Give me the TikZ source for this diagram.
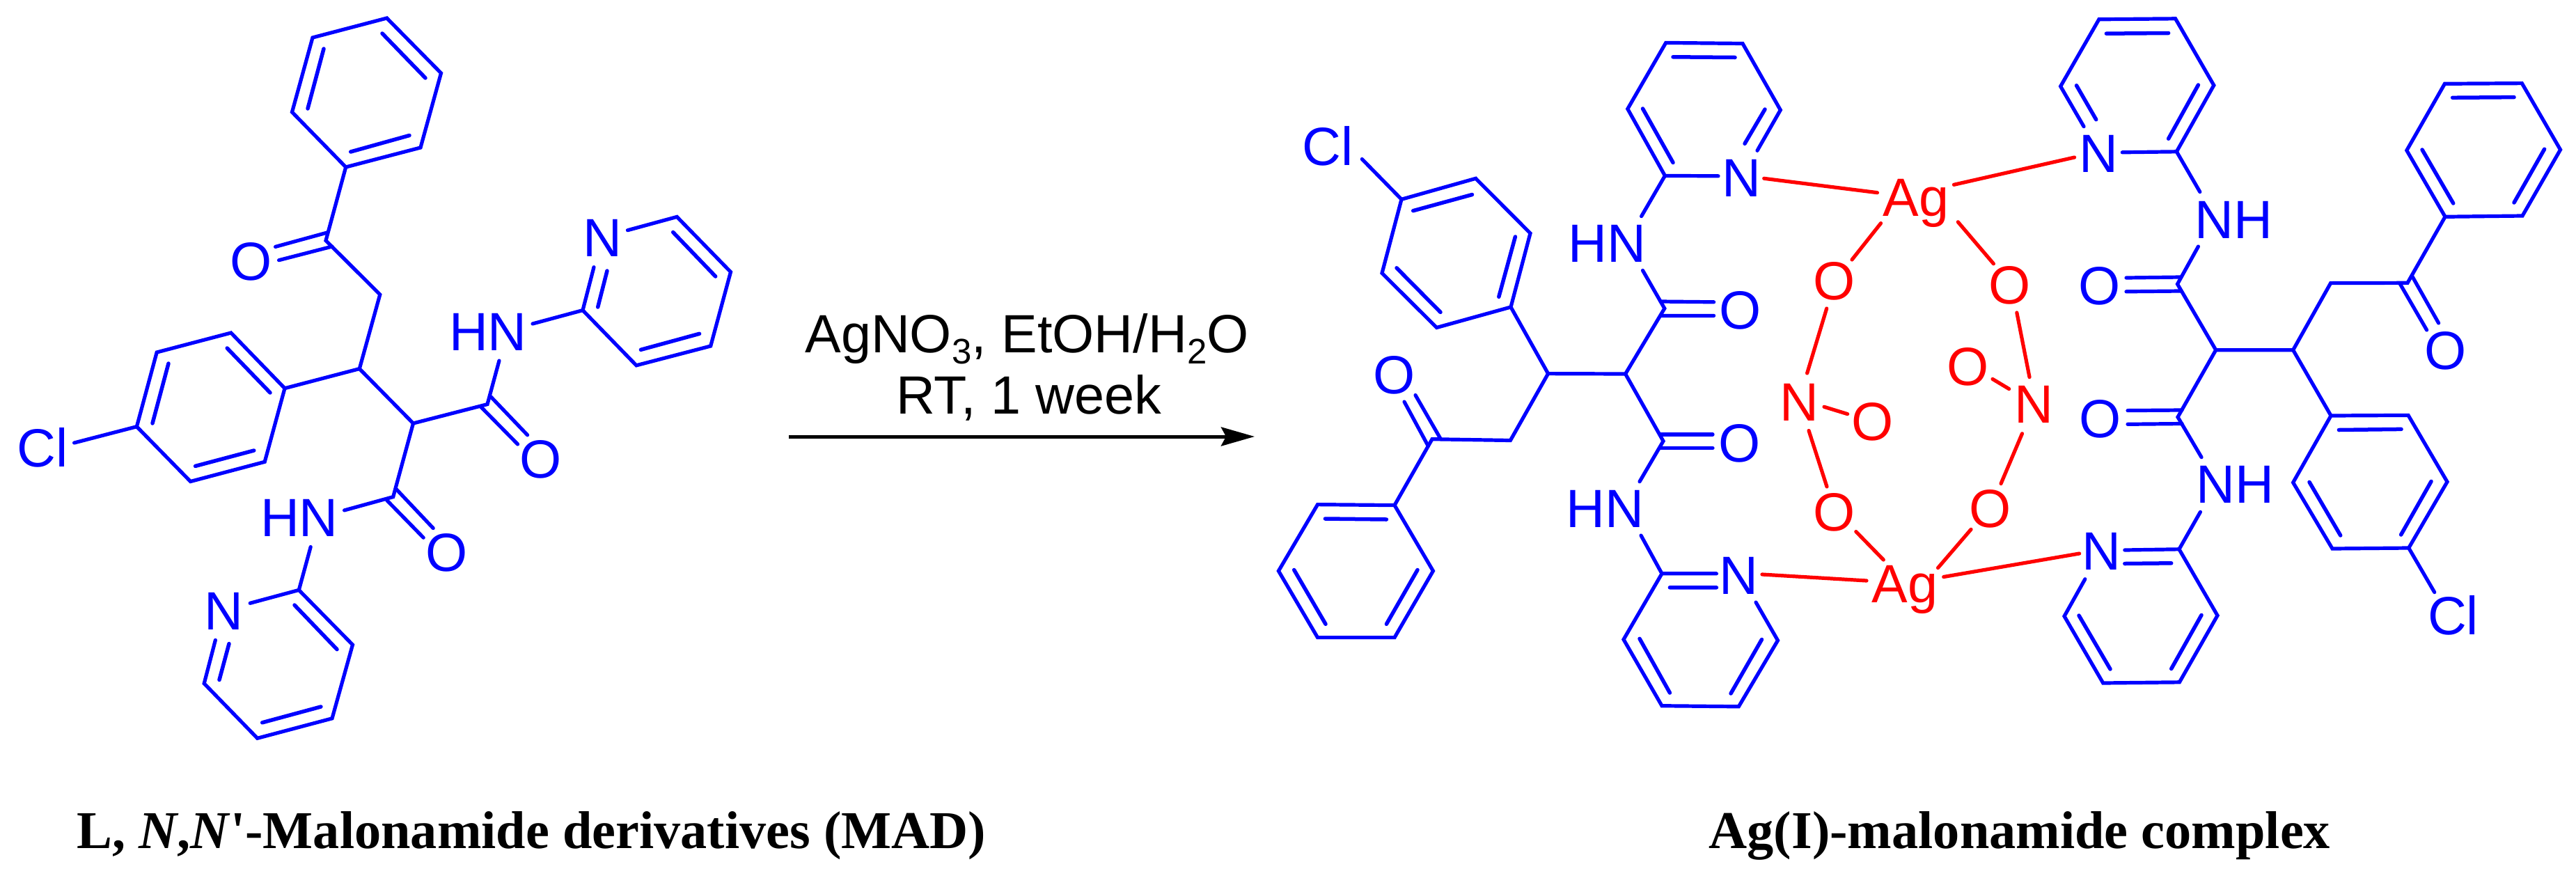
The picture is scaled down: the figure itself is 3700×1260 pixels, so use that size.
\documentclass[tikz,border=0pt]{standalone}
\usepackage{fontspec}
\setmainfont{Liberation Sans}
\newfontfamily\capfont{Liberation Serif}
\usetikzlibrary{arrows.meta}
\definecolor{molblue}{RGB}{0,0,255}
\definecolor{metred}{RGB}{255,0,0}
\tikzset{
  bond/.style={draw=molblue,line width=0.052cm,line cap=round,line join=miter},
  dbl/.style={bond,line width=0.055cm},
  rbond/.style={draw=metred,line width=0.052cm,line cap=round},
  lbl/.style={anchor=base,inner sep=0pt,outer sep=0pt,font=\fontsize{22pt}{24pt}\selectfont},
  bl/.style={lbl,text=molblue},
  rd/.style={lbl,text=metred},
  rxtext/.style={anchor=base,inner sep=0pt,font=\fontsize{22pt}{24pt}\selectfont,text=black},
  captext/.style={anchor=base west,inner sep=0pt,font=\capfont\bfseries\fontsize{21.7pt}{24pt}\selectfont,text=black},
  rxn/.style={draw=black,line width=0.05cm,-{Stealth[length=0.48cm,width=0.27cm,inset=0.07cm]}}
}
\newcommand{\subt}[1]{\raisebox{-0.16cm}{\fontsize{14.5pt}{16pt}\selectfont #1}}
\begin{document}
\begin{tikzpicture}[x=0.01cm,y=-0.01cm]
\useasboundingbox (0,0) rectangle (3700,1260);
%% ---------- left molecule: atoms
\coordinate (a1) at (555.6,26); \coordinate (a2) at (633.5,105); \coordinate (a3) at (604,212);
\coordinate (a4) at (496.7,240); \coordinate (a5) at (419.5,161); \coordinate (a6) at (449,54);
\coordinate (k1) at (468,345.5); \coordinate (m1) at (545.8,423); \coordinate (h1) at (516.3,529.6);
\coordinate (h2) at (593.5,608);
\coordinate (b1) at (409,557.7); \coordinate (b2) at (331.8,478); \coordinate (b3) at (225.2,506);
\coordinate (b4) at (196.4,612.7); \coordinate (b5) at (273.6,691.5); \coordinate (b6) at (380.2,663.3);
\coordinate (c1) at (700,580.6); \coordinate (c2) at (564.7,713.6);
\coordinate (p1) at (837,445.6); \coordinate (p3) at (972.3,311.4); \coordinate (p4) at (1049.5,390.6);
\coordinate (p5) at (1020.7,497); \coordinate (p6) at (914,524.8);
\coordinate (q1) at (429.3,847.4); \coordinate (q2) at (506.5,926); \coordinate (q3) at (477,1031.8);
\coordinate (q4) at (369.7,1060.3); \coordinate (q5) at (293.2,981.6);
%% gap ends
\coordinate (gCl1) at (106.6,636); \coordinate (gH1a) at (717,518); \coordinate (gH1b) at (765,465);
\coordinate (gN1a) at (853,383.7); \coordinate (gN1b) at (901.5,330.7);
\coordinate (gH2a) at (494.6,732.9); \coordinate (gH2b) at (446.2,785.5);
\coordinate (gN2a) at (359.2,866.3); \coordinate (gN2b) at (309.4,919.3);
\coordinate (gO1a) at (395.6,354.4); \coordinate (gO1b) at (400.6,373.7);
\coordinate (kO1a) at (470,334); \coordinate (kO1b) at (477,354);
%% labels
\node[bl] (O1) at (360.6,402) {O};
\node[bl] (Cl1) at (61,670) {Cl};
\node[bl] (HN1) at (701,503) {HN};
\node[bl] (N1) at (865,368.5) {N};
\node[bl] (O2) at (777,686) {O};
\node[bl] (HN2) at (430,770.6) {HN};
\node[bl] (O3) at (641.9,820) {O};
\node[bl] (N2) at (321.3,904) {N};
%% bonds
\draw[bond] (a1)--(a2)--(a3)--(a4)--(a5)--(a6)--cycle;
\draw[dbl] (549,48)--(611,112) (588,194.5)--(503.7,218) (442,156)--(465,70);
\draw[bond] (a4)--(k1)--(m1)--(h1)--(h2)--(c1)--(gH1a);
\draw[bond] (kO1a)--(gO1a) (kO1b)--(gO1b);
\draw[bond] (h1)--(b1);
\draw[bond] (b1)--(b2)--(b3)--(b4)--(b5)--(b6)--cycle;
\draw[dbl] (326.2,500)--(388,564) (242,522)--(219,608) (364.8,647)--(280.6,669.4);
\draw[bond] (b4)--(gCl1);
\draw[bond] (705,569.8)--(757.6,624.8) (691,584.6)--(743.6,638);
\draw[bond] (gH1b)--(p1)--(gN1a) (gN1b)--(p3)--(p4)--(p5)--(p6)--(p1);
\draw[dbl] (858.7,441)--(872,389) (966.7,333.5)--(1027.7,397) (1004.6,479.3)--(920.4,502.3);
\draw[bond] (h2)--(c2)--(gH2a) (gH2b)--(q1)--(q2)--(q3)--(q4)--(q5)--(gN2b) (gN2a)--(q1);
\draw[bond] (569.6,703)--(622.2,758.6) (555.6,718.4)--(608.2,772.2);
\draw[dbl] (423,869)--(484,932.6) (460.9,1015)--(376.7,1037.8) (315,976.4)--(329,924.5);
%% ---------- arrow + conditions
\coordinate (ar1) at (1133,627); \coordinate (ar2) at (1802,627);
\draw[rxn] (ar1)--(ar2);
\node[rxtext] (t1) at (1475,506.6) {AgNO\subt{3}, EtOH/H\subt{2}O};
\node[rxtext] (t2) at (1478,594) {RT, 1 week};
%% ---------- captions
\node[captext] (cL) at (110,1218) {L, \textit{N},\textit{N}\textquotesingle-Malonamide derivatives (MAD)};
\node[captext] (cR) at (2454,1218) {Ag(I)-malonamide complex};
%% ---------- right molecule, left half
\coordinate (e1) at (2392.7,61.4); \coordinate (e2) at (2503,62.5); \coordinate (e3) at (2557.3,158);
\coordinate (e4) at (2391.4,252.4); \coordinate (e5) at (2337.8,156.4);
\coordinate (gNe3) at (2524,216.3); \coordinate (gNe4) at (2468,252.8);
\coordinate (gHe4) at (2357.6,310.6); \coordinate (gHe5) at (2359.5,388.4);
\coordinate (d1) at (2390.8,443); \coordinate (d2) at (2334.6,537); \coordinate (d3) at (2223.6,536.6);
\coordinate (f1) at (2170,441); \coordinate (f2) at (2198,335); \coordinate (f3) at (2119.6,256.3);
\coordinate (f4) at (2013,286.3); \coordinate (f5) at (1985,392.3); \coordinate (f6) at (2063.5,470.5);
\coordinate (gClf) at (1956.3,228.5);
\coordinate (d4) at (2169.4,632.5); \coordinate (d5) at (2057,630.7);
\coordinate (g1) at (2003,725.6); \coordinate (g2) at (2058.4,820); \coordinate (g3) at (2003,915.6);
\coordinate (g4) at (1892.5,915.6); \coordinate (g5) at (1836.4,820); \coordinate (g6) at (1892.5,724.6);
\coordinate (d6) at (2389,633.5); \coordinate (gHd6) at (2355,691.7); \coordinate (gHh1) at (2357,769);
\coordinate (r1) at (2387,823.8); \coordinate (gNr1) at (2465.4,823.8); \coordinate (gNr3) at (2522,865);
\coordinate (r3) at (2553.5,919.8); \coordinate (r4) at (2497.3,1014.8); \coordinate (r5) at (2387,1013.7);
\coordinate (r6) at (2332,918.4);
\node[bl] (N3) at (2501,282) {N};
\node[bl] (HN3) at (2308,376) {HN};
\node[bl] (O4) at (2500,472.5) {O};
\node[bl] (Cl2) at (1907,237) {Cl};
\node[bl] (O5) at (2003,565) {O};
\node[bl] (O6) at (2498.6,663) {O};
\node[bl] (HN4) at (2305,757) {HN};
\node[bl] (N4) at (2497.6,853) {N};
\draw[bond] (gNe3)--(e3)--(e2)--(e1)--(e5)--(e4)--(gNe4);
\draw[dbl] (2403,81.8)--(2492,82.5) (2535,157)--(2506,206.3) (2359.5,156)--(2403,233.5);
\draw[bond] (e4)--(gHe4) (gHe5)--(d1)--(d2)--(d3)--(f1)--(f2)--(f3)--(f4)--(f5)--(f6)--(f1);
\draw[bond] (2385,433)--(2461.6,433.8) (2385,453.4)--(2461.6,453.4);
\draw[dbl] (2152.8,426.3)--(2176.4,340) (2114.5,279.5)--(2029.7,302.7) (2006,384.8)--(2069,448.4);
\draw[bond] (f4)--(gClf);
\draw[bond] (d3)--(d4)--(d5)--(g1)--(g2)--(g3)--(g4)--(g5)--(g6)--(g1);
\draw[bond] (2033,567.5)--(2069,630) (2017,577)--(2051.4,640.7);
\draw[dbl] (1991.4,746)--(1903.4,745) (2036,818.5)--(1991.4,896.3) (1858.7,818.5)--(1904,896.3);
\draw[bond] (d2)--(d6)--(gHd6) (gHh1)--(r1)--(gNr1);
\draw[bond] (2385,624)--(2460,624) (2385,643.5)--(2460,643.5);
\draw[bond] (gNr3)--(r3)--(r4)--(r5)--(r6)--(r1);
\draw[dbl] (2398.4,843.8)--(2465.4,843.8) (2530.5,918.4)--(2486,996) (2398.4,995)--(2355,917.3);
%% ---------- right molecule, right half
\coordinate (i1) at (3014.8,27.8); \coordinate (i2) at (3124.6,26.8); \coordinate (i3) at (3179.8,122.5);
\coordinate (i4) at (3126.3,217.8); \coordinate (i6) at (2959.6,124);
\coordinate (gNi4) at (3048.3,218.8); \coordinate (gNi6) at (2993,181.7);
\coordinate (gHi4) at (3159.8,275.6); \coordinate (gHt) at (3157.4,354);
\coordinate (s1) at (3127.5,408); \coordinate (s2) at (3182.7,502.7); \coordinate (s3) at (3293.6,502.7);
\coordinate (s4) at (3347.6,406.6); \coordinate (s5) at (3458,406.3);
\coordinate (j1) at (3512,311.3); \coordinate (j2) at (3623,310); \coordinate (j3) at (3677.5,215);
\coordinate (j4) at (3622.3,119.6); \coordinate (j5) at (3511.4,120.3); \coordinate (j6) at (3456.8,216);
\coordinate (s6) at (3128,599);
\coordinate (gHs6) at (3162,656.7); \coordinate (gHu) at (3160.4,735.3);
\coordinate (u1) at (3129.9,788.8); \coordinate (gNu1) at (3051.8,790);
\coordinate (gNu3) at (2994.8,831.7); \coordinate (u3) at (2965,885); \coordinate (u4) at (3020.7,981);
\coordinate (u5) at (3130.4,979.8); \coordinate (u6) at (3185,884);
\coordinate (l1) at (3348,597); \coordinate (l2) at (3459,596.4); \coordinate (l3) at (3515,692);
\coordinate (l4) at (3459.7,787); \coordinate (l5) at (3350,788); \coordinate (l6) at (3293.6,693);
\coordinate (gCll) at (3496.7,850.6);
\node[bl] (N5) at (3014.7,247) {N};
\node[bl] (NH1) at (3208.5,342) {NH};
\node[bl] (O7) at (3016,437.5) {O};
\node[bl] (O8) at (3512.6,530) {O};
\node[bl] (O9) at (3016.6,628) {O};
\node[bl] (NH2) at (3210.6,722.8) {NH};
\node[bl] (N6) at (3018.3,818.5) {N};
\node[bl] (Cl3) at (3523.5,911) {Cl};
\draw[bond] (gNi4)--(i4)--(i3)--(i2)--(i1)--(i6)--(gNi6);
\draw[dbl] (3025.4,48.2)--(3114.6,47.5) (3157.4,122)--(3114.6,199.2) (2982.5,122.8)--(3010.7,171.7);
\draw[bond] (i4)--(gHi4) (gHt)--(s1)--(s2)--(s3)--(s4)--(s5)--(j1)--(j2)--(j3)--(j4)--(j5)--(j6)--(j1);
\draw[bond] (3054,399)--(3132,398) (3054,418.8)--(3132,418);
\draw[bond] (3465,397.3)--(3502.6,464) (3447.4,408)--(3485.6,474);
\draw[dbl] (3522.6,140.3)--(3611,139.6) (3654.6,214.2)--(3611,291) (3479,215)--(3523.7,292);
\draw[bond] (s2)--(s6)--(gHs6) (gHu)--(u1)--(gNu1) (gNu3)--(u3)--(u4)--(u5)--(u6)--(u1);
\draw[bond] (3056,589.6)--(3134,589) (3056,609.3)--(3134,608.5);
\draw[dbl] (3051.8,809.5)--(3118.7,808.8) (2986,884)--(3031,961) (3162,883.4)--(3118.7,960.5);
\draw[bond] (s3)--(l1)--(l2)--(l3)--(l4)--(l5)--(l6)--(l1);
\draw[dbl] (3359.4,617.5)--(3449,616.4) (3492,691.4)--(3448.6,768) (3317,692.4)--(3361.7,769);
\draw[bond] (l4)--(gCll);
%% ---------- red core
\node[rd] (Ag1) at (2752,310.6) {Ag};
\node[rd] (Ag2) at (2736,865.6) {Ag};
\node[rd] (Ox1) at (2634.5,430.5) {O};
\node[rd] (Nx1) at (2584,604) {N};
\node[rd] (Ox2) at (2690,632.5) {O};
\node[rd] (Ox3) at (2634.5,762.5) {O};
\node[rd] (Ox4) at (2886.8,436) {O};
\node[rd] (Nx2) at (2921.4,607.8) {N};
\node[rd] (Ox5) at (2827,553.5) {O};
\node[rd] (Ox6) at (2858.7,757) {O};
\coordinate (ra1) at (2533.7,256.3); \coordinate (ra2) at (2696.4,276.7);
\coordinate (ra3) at (2701.5,320.6); \coordinate (ra4) at (2660,373);
\coordinate (ra5) at (2623.7,443); \coordinate (ra6) at (2595.6,536);
\coordinate (ra7) at (2620,584.3); \coordinate (ra8) at (2653.6,594.6);
\coordinate (ra9) at (2598,618.5); \coordinate (ra10) at (2624,699);
\coordinate (ra11) at (2665.8,763.5); \coordinate (ra12) at (2705.3,804);
\coordinate (ra13) at (2531,825); \coordinate (ra14) at (2681,834);
\coordinate (rb1) at (2806.4,265.3); \coordinate (rb2) at (2979.6,226);
\coordinate (rb3) at (2812.3,318.8); \coordinate (rb4) at (2863.4,378.8);
\coordinate (rb5) at (2896.8,449); \coordinate (rb6) at (2915,541.6);
\coordinate (rb7) at (2862,544.4); \coordinate (rb8) at (2885.7,558.6);
\coordinate (rb9) at (2904.4,622.8); \coordinate (rb10) at (2874,694.6);
\coordinate (rb11) at (2831,760.3); \coordinate (rb12) at (2783.5,815.6);
\coordinate (rb13) at (2791.7,828.5); \coordinate (rb14) at (2986.6,795);
\draw[rbond] (ra1)--(ra2) (ra3)--(ra4) (ra5)--(ra6) (ra7)--(ra8) (ra9)--(ra10) (ra11)--(ra12) (ra13)--(ra14);
\draw[rbond] (rb1)--(rb2) (rb3)--(rb4) (rb5)--(rb6) (rb7)--(rb8) (rb9)--(rb10) (rb11)--(rb12) (rb13)--(rb14);
\end{tikzpicture}
\end{document}
